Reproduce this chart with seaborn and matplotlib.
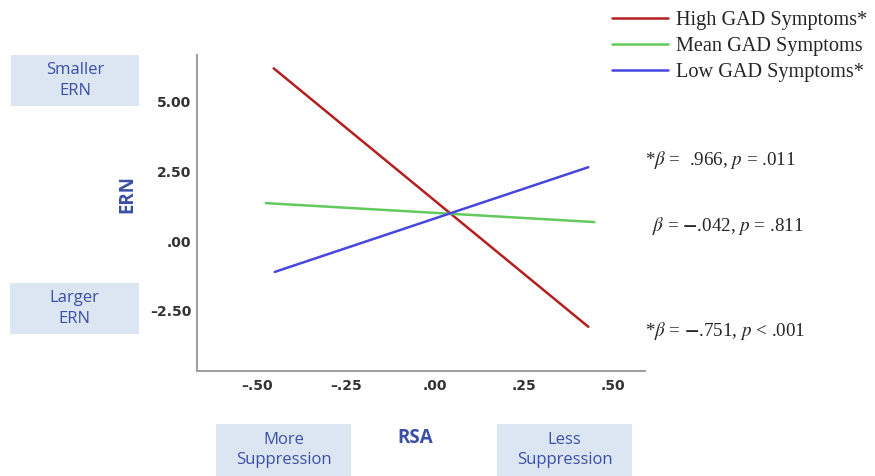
import pandas as pd
import seaborn as sns
import matplotlib.pyplot as plt
from matplotlib.patches import Rectangle

# simple slopes (line endpoints)
groups = ['High GAD Symptoms*', 'Mean GAD Symptoms', 'Low GAD Symptoms*']
rsa_high = [-0.454, 0.431]
ern_high = [6.20, -3.08]
rsa_mean = [-0.476, 0.448]
ern_mean = [1.36, 0.68]
rsa_low = [-0.451, 0.431]
ern_low = [-1.11, 2.65]

x_ticks = [-0.5, -0.25, 0.0, 0.25, 0.5]
x_ticklabels = ['\u2013.50', '\u2013.25', '.00', '.25', '.50']
y_ticks = [-2.5, 0.0, 2.5, 5.0]
y_ticklabels = ['\u20132.50', '.00', '2.50', '5.00']

stats = [r'*$\beta$ =  .966, $p$ = .011',
         r'$\beta$ = $\mathbf{-}$.042, $p$ = .811',
         r'*$\beta$ = $\mathbf{-}$.751, $p$ < .001']

df = pd.DataFrame({
    'RSA': rsa_high + rsa_mean + rsa_low,
    'ERN': ern_high + ern_mean + ern_low,
    'Group': [groups[0]] * 2 + [groups[1]] * 2 + [groups[2]] * 2,
})

sns.set_style('white')
plt.rcParams['mathtext.fontset'] = 'stix'

fig = plt.figure(figsize=(8.75, 4.76), dpi=100)
ax = fig.add_axes([0.225, 0.221, 0.512, 0.663])

palette = {groups[0]: '#b3201f', groups[1]: '#62c95c', groups[2]: '#4747e0'}
sns.lineplot(data=df, x='RSA', y='ERN', hue='Group', palette=palette,
             linewidth=1.8, ax=ax, legend=True)

ax.set_xlim(-0.67, 0.59)
ax.set_ylim(-4.66, 6.67)
ax.set_xticks(x_ticks)
ax.set_xticklabels(x_ticklabels)
ax.set_yticks(y_ticks)
ax.set_yticklabels(y_ticklabels)
ax.tick_params(axis='y', length=0, labelsize=10, labelcolor='#333333', pad=4)
ax.tick_params(axis='x', length=0, labelsize=10, labelcolor='#333333', pad=6)
for lab in ax.get_xticklabels() + ax.get_yticklabels():
    lab.set_fontweight('bold')
ax.set_xlabel('')
ax.set_ylabel('')
for s in ['top', 'right']:
    ax.spines[s].set_visible(False)
for s in ['left', 'bottom']:
    ax.spines[s].set_color('#a0a0a0')
    ax.spines[s].set_linewidth(1.5)

leg = ax.legend(loc='upper left', bbox_to_anchor=(0.690, 0.994),
                bbox_transform=fig.transFigure, frameon=False,
                prop={'family': 'Liberation Serif', 'size': 14.6},
                handlelength=2.75, handletextpad=0.42, labelspacing=0.33,
                borderaxespad=0)

blue_txt = '#3b4fa6'
box_col = '#dce6f2'

def label_box(x0, y0, x1, y1, text):
    fig.add_artist(Rectangle((x0 / 875, 1 - y1 / 476), (x1 - x0) / 875,
                             (y1 - y0) / 476, transform=fig.transFigure,
                             facecolor=box_col, edgecolor='none'))
    fig.text((x0 + x1) / 2 / 875, 1 - (y0 + y1) / 2 / 476, text,
             ha='center', va='center', color=blue_txt, fontsize=12,
             family='Open Sans', linespacing=1.4)

label_box(11, 55, 139, 106, 'Smaller\nERN')
label_box(10, 283, 139, 334, 'Larger\nERN')
label_box(216, 424, 351, 476, 'More\nSuppression')
label_box(497, 424, 632, 476, 'Less\nSuppression')

fig.text(415 / 875, 1 - 438 / 476, 'RSA', ha='center', va='center',
         color=blue_txt, fontsize=13.5, fontweight='bold', family='Open Sans')
fig.text(127 / 875, 1 - 194 / 476, 'ERN', ha='center', va='center',
         rotation=90, color=blue_txt, fontsize=13.5, fontweight='bold',
         family='Open Sans')

for (tx, ty), s in zip([(645, 160), (652, 226), (645, 331)], stats):
    fig.text(tx / 875, 1 - ty / 476, s, ha='left', va='center',
             fontsize=13.7, family='Liberation Serif')

fig.savefig('out.png', dpi=100)
